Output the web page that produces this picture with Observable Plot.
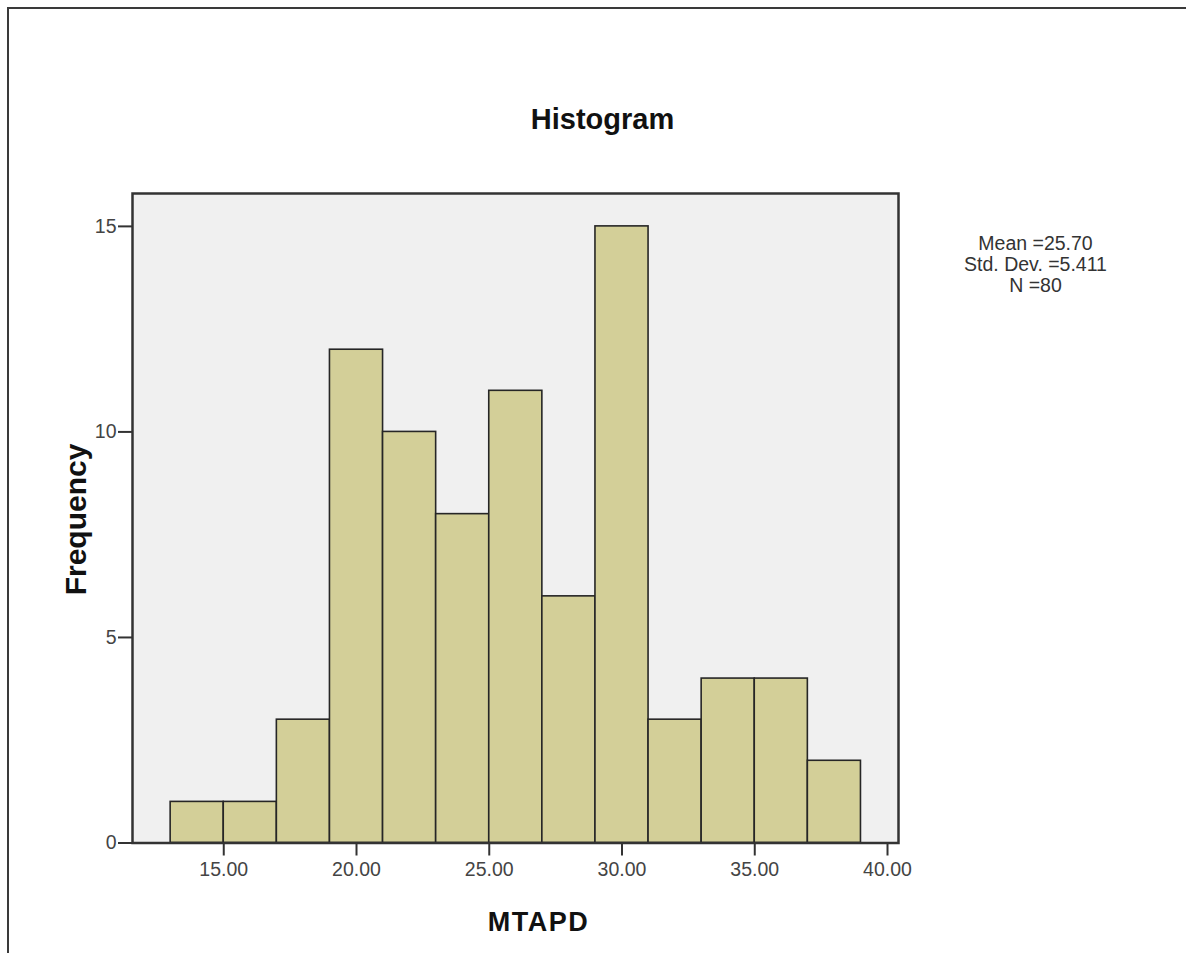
<!DOCTYPE html>
<html>
<head>
<meta charset="utf-8">
<script src="https://cdn.jsdelivr.net/npm/d3@7"></script>
<script src="https://cdn.jsdelivr.net/npm/@observablehq/plot@0.6"></script>
<style>
  html, body { margin: 0; padding: 0; background: #fff; overflow: hidden; }
  #wrap { position: relative; width: 1186px; height: 953px; }
  #border { position: absolute; left: 7px; top: 7px; width: 1300px; height: 1100px; border: 2.5px solid #3a3a3a; box-sizing: border-box; pointer-events: none; }
  #chart { position: absolute; left: 0; top: 0; }
  #chart svg text { font-family: "Liberation Sans", Arial, sans-serif; }
  .xlab text { letter-spacing: 1.5px; }
</style>
</head>
<body>
<div id="wrap">
  <div id="border"></div>
  <div id="chart"></div>
</div>
<script>
// Histogram bins (lower edge, upper edge) and frequencies
const binStart = [13, 15, 17, 19, 21, 23, 25, 27, 29, 31, 33, 35, 37];
const binEnd   = [15, 17, 19, 21, 23, 25, 27, 29, 31, 33, 35, 37, 39];
const freq     = [1, 1, 3, 12, 10, 8, 11, 6, 15, 3, 4, 4, 2];
const xTicks = [15, 20, 25, 30, 35, 40];
const yTicks = [0, 5, 10, 15];
const titleText = "Histogram";
const xLabel = "MTAPD";
const yLabel = "Frequency";
const statLabels = ["Mean =", "Std. Dev. =", "N ="];
const statValues = ["25.70", "5.411", "80"];

const bars = binStart.map((s, i) => ({x1: s, x2: binEnd[i], y: freq[i]}));
const statLines = [statLabels.map((l, i) => l + statValues[i]).join("\n")];

const mL = 132, mR = 288, mT = 193, mB = 110.5;
const W = 1186, H = 953;

const chart = Plot.plot({
  width: W,
  height: H,
  marginLeft: mL,
  marginRight: mR,
  marginTop: mT,
  marginBottom: mB,
  style: {background: "transparent", fontFamily: "Liberation Sans, Arial, sans-serif"},
  x: {domain: [11.563, 40.414]},
  y: {domain: [0, 15.8]},
  marks: [
    Plot.frame({fill: "#f0f0f0"}),
    Plot.rectY(bars, {x1: "x1", x2: "x2", y: "y", fill: "#d3cf98", stroke: "#262626", strokeWidth: 1.6}),
    Plot.frame({stroke: "#333", strokeWidth: 2.5}),
    Plot.axisX({ticks: xTicks, tickFormat: d3.format(".2f"), tickSize: 13, tickPadding: 6,
      fontSize: 19.5, stroke: "#333", strokeWidth: 2, color: "#444", label: null}),
    Plot.axisY({ticks: yTicks, tickFormat: d => d, tickSize: 14, tickPadding: 2,
      fontSize: 19.5, stroke: "#333", strokeWidth: 2, color: "#444", label: null}),
    Plot.text([titleText], {frameAnchor: "top-left", dx: 602 - mL, dy: 128 - mT,
      textAnchor: "middle", lineAnchor: "bottom", fontSize: 29, fontWeight: "bold", fill: "#111"}),
    Plot.text([xLabel], {frameAnchor: "bottom-left", dx: 538 - mL, dy: 930 - (H - mB),
      textAnchor: "middle", lineAnchor: "bottom", fontSize: 27, fontWeight: "bold", fill: "#111", className: "xlab"}),
    Plot.text([yLabel], {frameAnchor: "top-left", dx: 76 - mL, dy: 519 - mT, rotate: -90,
      textAnchor: "middle", lineAnchor: "middle", fontSize: 30, fontWeight: "bold", fill: "#111"}),
    Plot.text(statLines, {frameAnchor: "top-left", dx: 1035 - mL, dy: 291.5 - mT,
      textAnchor: "middle", lineAnchor: "bottom", lineHeight: 1.07, fontSize: 19.5, fill: "#333"})
  ]
});
document.getElementById("chart").appendChild(chart);
</script>
</body>
</html>
